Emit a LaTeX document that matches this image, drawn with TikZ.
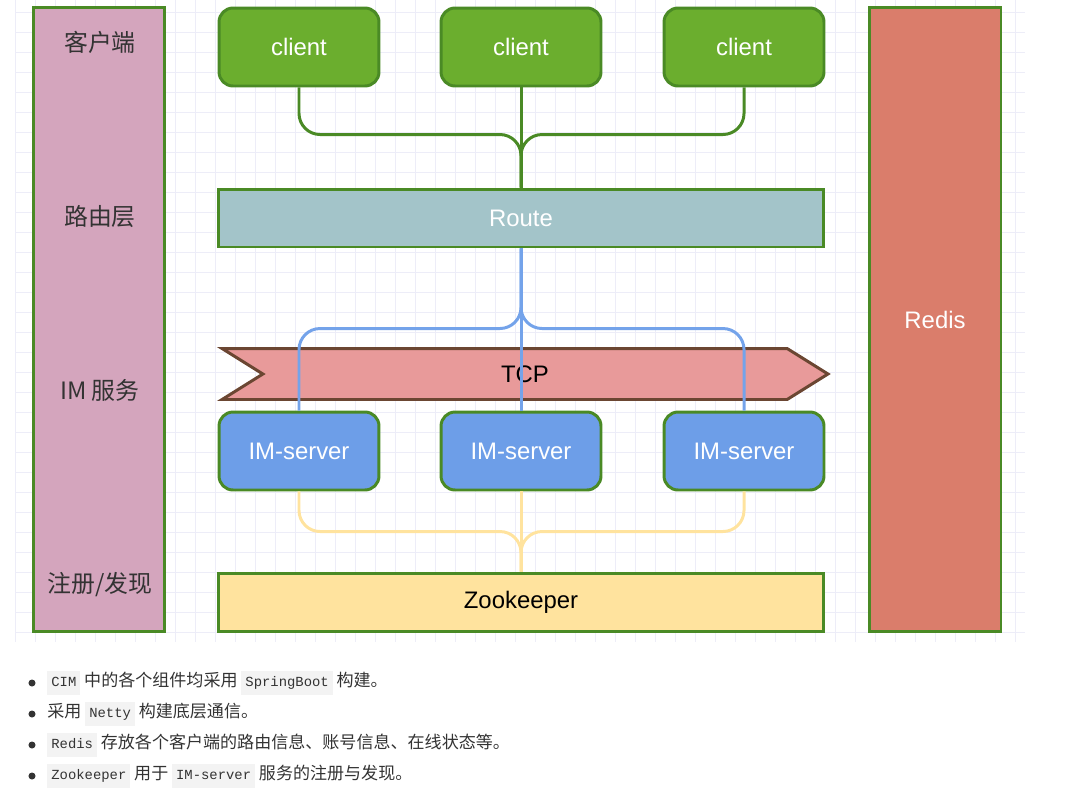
\documentclass[tikz,border=0pt]{standalone}
\usepackage{fontspec}
\setmainfont{Liberation Sans}
\newfontfamily\cjk{Noto Sans CJK SC}
\newfontfamily\codefont{Liberation Mono}
\usetikzlibrary{calc,shapes.symbols}

\definecolor{gridcol}{HTML}{EDEDF8}
\definecolor{frame}{HTML}{4A8A25}
\definecolor{layerfill}{HTML}{D4A5BD}
\definecolor{clientfill}{HTML}{6BAE2E}
\definecolor{routefill}{HTML}{A3C4C9}
\definecolor{tcpfill}{HTML}{E89A9A}
\definecolor{tcpline}{HTML}{6B4632}
\definecolor{serverfill}{HTML}{6D9EE8}
\definecolor{bluewire}{HTML}{74A3EA}
\definecolor{zkfill}{HTML}{FFE39E}
\definecolor{redisfill}{HTML}{DA7D6B}
\definecolor{textgray}{HTML}{333333}
\definecolor{codebg}{HTML}{F3F3F3}

\newcommand\code[1]{{\setlength{\fboxsep}{2.3pt}\colorbox{codebg}{\codefont\fontsize{7.9}{9}\selectfont\strut #1}}}

\begin{document}
\begin{tikzpicture}[
  x=0.02cm, y=-0.02cm,
  every node/.style={font=\fontsize{13.6}{16}\selectfont},
  gridline/.style={gridcol, line width=0.5pt},
  column/.style={draw=frame, line width=1.7pt, minimum width=2.64cm, minimum height=12.48cm},
  layer/.style={font=\cjk\fontsize{13.6}{16}\selectfont, text=textgray},
  box/.style={draw=frame, line width=1.7pt, rounded corners=8pt, minimum width=3.2cm, minimum height=1.56cm, text=white},
  bar/.style={draw=frame, line width=1.7pt, minimum width=12.1cm, minimum height=1.16cm},
  wire/.style={line width=1.7pt, rounded corners=12},
  item/.style={anchor=west, inner sep=0pt, text=textgray, font=\cjk\fontsize{9.7}{12}\selectfont}
]
\useasboundingbox (0,0) rectangle (1067,798);

\foreach \gx in {15,35,...,1025} \draw [gridline] (\gx,0) -- (\gx,642);
\foreach \gy in {12,32,...,632} \draw [gridline] (15,\gy) -- (1025,\gy);

\node [column, fill=layerfill] (layers) at (99,319.5) {};
\node [column, fill=redisfill, text=white] (redis) at (935,319.5) {Redis};

\node [layer] (layer1) at (100,42) {客户端};
\node [layer] (layer2) at (100,217) {路由层};
\node [layer] (layer3) at (100,390) {IM 服务};
\node [layer] (layer4) at (100,585) {注册/发现};

\node [signal, signal from=west, signal to=east, signal pointer angle=64,
  draw=tcpline, line width=1.7pt, fill=tcpfill, minimum width=12.12cm, minimum height=1.02cm,
  inner sep=0pt] (tcp) at (525,374) {TCP};

\node [box, fill=clientfill] (client1) at (299,47) {client};
\node [box, fill=clientfill] (client2) at (521,47) {client};
\node [box, fill=clientfill] (client3) at (744,47) {client};

\node [bar, fill=routefill, text=white] (route) at (521,218) {Route};

\node [box, fill=serverfill] (server1) at (299,451) {IM-server};
\node [box, fill=serverfill] (server2) at (521,451) {IM-server};
\node [box, fill=serverfill] (server3) at (744,451) {IM-server};

\node [bar, fill=zkfill] (zk) at (521,602) {Zookeeper};

\draw [wire, frame] (client2.south) -- (route.north);
\draw [wire, frame] (client1.south) |- ($(route.north)+(0,-53)$) -- (route.north);
\draw [wire, frame] (client3.south) |- ($(route.north)+(0,-53)$) -- (route.north);

\draw [wire, bluewire] (route.south) -- (server2.north);
\draw [wire, bluewire] (route.south) |- ($(server1.north)+(0,-82)$) -- (server1.north);
\draw [wire, bluewire] (route.south) |- ($(server3.north)+(0,-82)$) -- (server3.north);

\draw [wire, zkfill] (server2.south) -- (zk.north);
\draw [wire, zkfill] (server1.south) |- ($(zk.north)+(0,-40)$) -- (zk.north);
\draw [wire, zkfill] (server3.south) |- ($(zk.north)+(0,-40)$) -- (zk.north);

\node [item] (item1) at (47,683) {\code{CIM} 中的各个组件均采用 \code{SpringBoot} 构建。};
\node [item] (item2) at (47,714) {采用 \code{Netty} 构建底层通信。};
\node [item] (item3) at (47,745) {\code{Redis} 存放各个客户端的路由信息、账号信息、在线状态等。};
\node [item] (item4) at (47,776) {\code{Zookeeper} 用于 \code{IM-server} 服务的注册与发现。};
\foreach \by in {683,714,745,776} \fill [textgray] (32,\by) circle [radius=2pt];
\end{tikzpicture}
\end{document}
